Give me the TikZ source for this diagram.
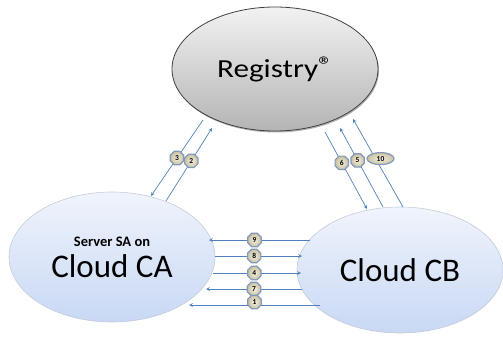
\documentclass[tikz,border=0pt]{standalone}
\usepackage{fontspec}
\setmainfont{Carlito}
\usetikzlibrary{positioning,calc,arrows.meta,shapes.geometric,shadows}
\tikzset{>=stealth}
\definecolor{msgblue}{HTML}{4F81BD}
\definecolor{cloudtop}{HTML}{F0F4FC}
\definecolor{cloudbot}{HTML}{C8D8F4}
\definecolor{cloudline}{HTML}{C4CCDA}
\definecolor{regtop}{HTML}{F2F2F2}
\definecolor{regbot}{HTML}{B4B4B4}
\definecolor{badgein}{HTML}{F4F0E2}
\definecolor{badgeout}{HTML}{C9C1A0}
\definecolor{badgeline}{HTML}{8298BC}

\begin{document}
\begin{tikzpicture}[x=1pt,y=-1pt,
  cloudnode/.style={ellipse,draw=cloudline,line width=.6pt,top color=cloudtop,bottom color=cloudbot,inner sep=0pt,align=center},
  msg/.style={->,draw=msgblue,line width=.7pt},
  badge/.style={regular polygon,regular polygon sides=8,minimum size=14.5pt,inner sep=0pt,draw=badgeline,line width=1.2pt,inner color=badgein,outer color=badgeout,font=\fontsize{7.5}{7.5}\selectfont\bfseries},
  wbadge/.style={badge,ellipse,minimum width=27pt,minimum height=12pt}]
\useasboundingbox (0,0) rectangle (503,337);

% the three parties
\node[ellipse,draw=black!75,line width=.8pt,top color=regtop,bottom color=regbot,
      minimum width=206pt,minimum height=124pt,inner sep=0pt,
      drop shadow={shadow xshift=1pt,shadow yshift=-1.5pt,fill=black!60,opacity=.5},
      font=\fontsize{26}{28}\selectfont] (registry) at (275,69)
      {\scalebox{1.2}[1]{Registry\raisebox{4pt}{\fontsize{24}{24}\selectfont\textregistered}}};
\node[cloudnode,minimum width=206pt,minimum height=130pt,
      font=\fontsize{33}{31}\selectfont] (ca) at (112,257)
      {{\fontsize{14.5}{16}\selectfont\bfseries Server SA on}\\Cloud CA};
\node[cloudnode,minimum width=206pt,minimum height=126pt,
      font=\fontsize{33}{33}\selectfont] (cb) at (400,270) {Cloud CB};

% ends of the messages
\coordinate (s3) at (203,120);  \coordinate (e3) at (151,196);
\coordinate (s2) at (166,201);  \coordinate (e2) at (212,128);
\coordinate (s6) at (325,132);  \coordinate (e6) at (367,209);
\coordinate (s5) at (383,207);  \coordinate (e5) at (340,128);
\coordinate (s10) at (403,207); \coordinate (e10) at (353,119);
\coordinate (s9) at (310,240);  \coordinate (e9) at (209,240);
\coordinate (s8) at (215,256);  \coordinate (e8) at (302,256);
\coordinate (s4) at (213,273);  \coordinate (e4) at (301,273);
\coordinate (s7) at (302,289);  \coordinate (e7) at (206,289);
\coordinate (s1) at (320,305);  \coordinate (e1) at (189,305);

% messages with their step numbers
\draw[msg] (s3) -- (e3) node[badge,pos=.5] (n3) {3};
\draw[msg] (s2) -- (e2) node[badge,pos=.55] (n2) {2};
\draw[msg] (s6) -- (e6) node[badge,pos=.4] (n6) {6};
\draw[msg] (s5) -- (e5) node[badge,pos=.59] (n5) {5};
\draw[msg] (s10) -- (e10) node[wbadge,pos=.55,xshift=5pt] (n10) {10};
\draw[msg] (s9) -- (e9) node[badge,pos=.55] (n9) {9};
\draw[msg] (s8) -- (e8) node[badge,pos=.45] (n8) {8};
\draw[msg] (s4) -- (e4) node[badge,pos=.47] (n4) {4};
\draw[msg] (s7) -- (e7) node[badge,pos=.5] (n7) {7};
\draw[msg] (s1) -- (e1) node[badge,pos=.5,yshift=3pt] (n1) {1};
\end{tikzpicture}
\end{document}
